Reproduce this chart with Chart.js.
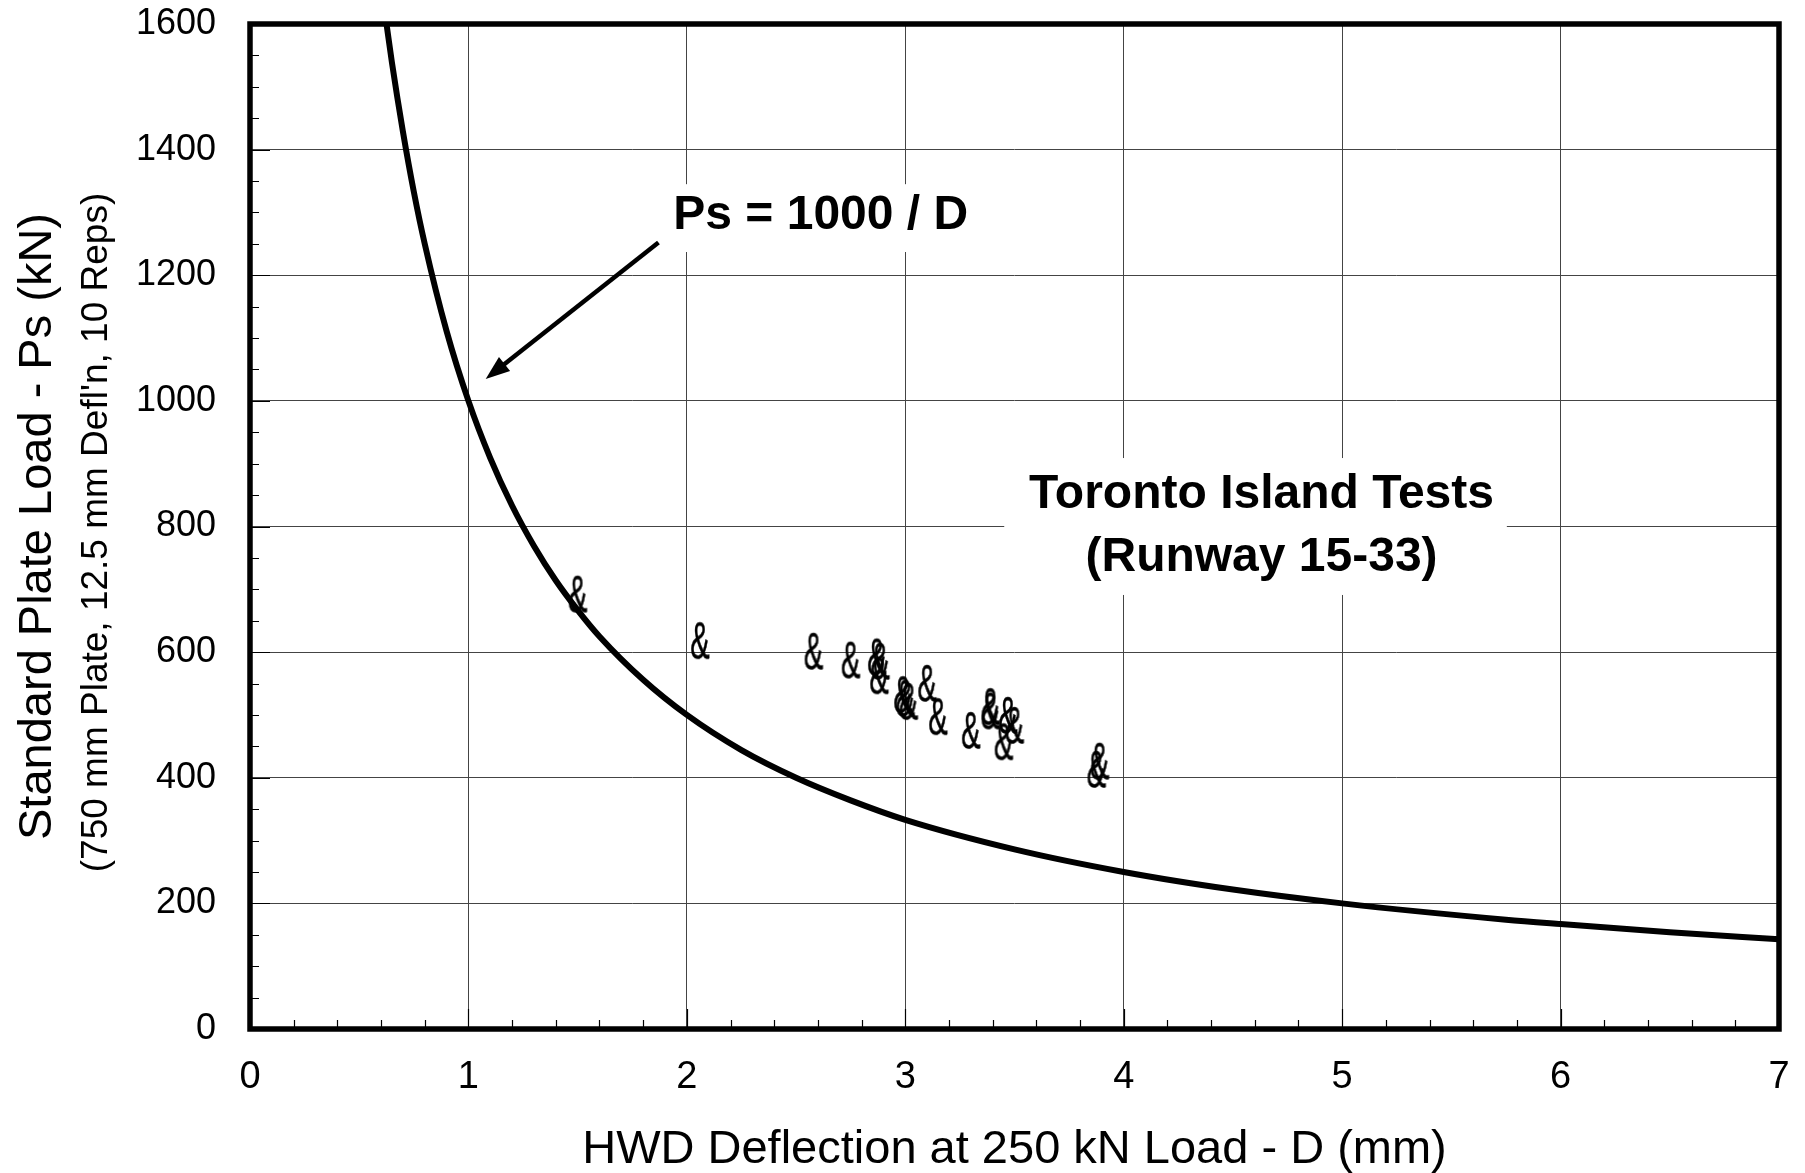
<!DOCTYPE html>
<html>
<head>
<meta charset="utf-8">
<script src="https://cdn.jsdelivr.net/npm/chart.js@4.4.0/dist/chart.umd.min.js"></script>
<style>
  html, body { margin: 0; padding: 0; background: #fff; }
  canvas { display: block; }
</style>
</head>
<body>
<canvas id="plateChart" width="1805" height="1173"></canvas>
<script>
const FONT = '"Liberation Sans", Arial, sans-serif';

// Toronto Island HWD / plate load test points
const hwdDeflection = [1.50, 2.06, 2.58, 2.75, 2.87, 2.885, 2.88, 2.99, 3.00, 3.015, 3.10, 3.15, 3.30, 3.39, 3.39, 3.47, 3.50, 3.45, 3.875, 3.89];
const plateLoad = [693, 619, 602, 588, 593, 586, 563, 533, 527, 522, 551, 498, 476, 514, 507, 500, 484, 458, 414, 427];

// Ps = 1000 / D curve
const curveDeflection = [0.625, 0.65, 0.7, 0.75, 0.8, 0.9, 1.0, 1.1, 1.2, 1.3, 1.4, 1.5, 1.6, 1.8, 2.0, 2.25, 2.5, 2.75, 3.0, 3.5, 4.0, 4.5, 5.0, 5.75, 6.0, 6.5, 7.0];
const curveLoad = [1600, 1538, 1429, 1333, 1250, 1111, 1000, 909, 833, 769, 714, 667, 625, 556, 500, 444, 400, 364, 333, 286, 250, 222, 200, 174, 167, 154, 143];

const xTickValues = [0, 1, 2, 3, 4, 5, 6, 7];
const yTickValues = [0, 200, 400, 600, 800, 1000, 1200, 1400, 1600];

const xTitle = "HWD Deflection at 250 kN Load - D (mm)";
const yTitle = "Standard Plate Load - Ps (kN)";
const ySubTitle = "(750 mm Plate, 12.5 mm Defl'n, 10 Reps)";
const curveLabel = "Ps = 1000 / D";
const testLabel = ["Toronto Island Tests", "(Runway 15-33)"];

// the "&" marker glyph used for every test point
function markerCanvas() {
  const c = document.createElement("canvas");
  c.width = 36;
  c.height = 56;
  const g = c.getContext("2d");
  g.font = "52px " + FONT;
  const m = g.measureText("&");
  const cx = (m.actualBoundingBoxRight - m.actualBoundingBoxLeft) / 2;
  const cy = (m.actualBoundingBoxAscent - m.actualBoundingBoxDescent) / 2;
  g.translate(c.width / 2, c.height / 2);
  g.scale(0.56, 1);
  g.fillStyle = "#000";
  g.strokeStyle = "#000";
  g.lineWidth = 0.6;
  g.fillText("&", -cx, cy);
  g.strokeText("&", -cx, cy);
  return c;
}

const overlay = {
  id: "overlay",
  beforeDatasetsDraw(chart) {
    const { ctx, scales: { x, y } } = chart;
    ctx.save();
    ctx.fillStyle = "#fff";
    // label boxes hide the grid behind them
    ctx.fillRect(x.getPixelForValue(1.88), y.getPixelForValue(1345),
      x.getPixelForValue(3.34) - x.getPixelForValue(1.88), y.getPixelForValue(1237) - y.getPixelForValue(1345));
    ctx.fillRect(x.getPixelForValue(3.453), y.getPixelForValue(909),
      x.getPixelForValue(5.754) - x.getPixelForValue(3.453), y.getPixelForValue(691) - y.getPixelForValue(909));

    ctx.fillStyle = "#000";
    ctx.textAlign = "center";
    ctx.textBaseline = "middle";
    ctx.font = "bold 48px " + FONT;
    ctx.fillText(curveLabel, x.getPixelForValue(2.613), y.getPixelForValue(1294));
    ctx.fillText(testLabel[0], x.getPixelForValue(4.631), y.getPixelForValue(850));
    ctx.fillText(testLabel[1], x.getPixelForValue(4.631), y.getPixelForValue(751));
    ctx.restore();
  },
  afterDatasetsDraw(chart) {
    const { ctx, scales: { x, y } } = chart;
    // arrow pointing at the curve
    const x0 = x.getPixelForValue(1.870), y0 = y.getPixelForValue(1252);
    const x1 = x.getPixelForValue(1.079), y1 = y.getPixelForValue(1035);
    const ang = Math.atan2(y1 - y0, x1 - x0);
    ctx.save();
    ctx.strokeStyle = "#000";
    ctx.fillStyle = "#000";
    ctx.lineWidth = 4.5;
    ctx.beginPath();
    ctx.moveTo(x0, y0);
    ctx.lineTo(x1 - 16 * Math.cos(ang), y1 - 16 * Math.sin(ang));
    ctx.stroke();
    ctx.translate(x1, y1);
    ctx.rotate(ang);
    ctx.beginPath();
    ctx.moveTo(0, 0);
    ctx.lineTo(-24, -9);
    ctx.lineTo(-24, 9);
    ctx.closePath();
    ctx.fill();
    ctx.restore();
  },
  afterDraw(chart) {
    const { ctx, chartArea: a, scales: { x, y } } = chart;
    ctx.save();
    ctx.strokeStyle = "#000";

    // minor ticks inside the frame
    ctx.lineWidth = 1.2;
    ctx.beginPath();
    for (let v = 0.2; v < 7; v += 0.2) {
      const px = Math.round(x.getPixelForValue(v)) + 0.5;
      const major = Math.abs(v - Math.round(v)) < 0.01;
      ctx.moveTo(px, a.bottom);
      ctx.lineTo(px, a.bottom - (major ? 20 : 9));
    }
    for (let v = 50; v < 1600; v += 50) {
      const py = Math.round(y.getPixelForValue(v)) + 0.5;
      const major = v % 200 === 0;
      ctx.moveTo(a.left, py);
      ctx.lineTo(a.left + (major ? 20 : 9), py);
    }
    ctx.stroke();

    // heavy frame
    ctx.lineWidth = 5.5;
    ctx.strokeRect(a.left, a.top, a.right - a.left, a.bottom - a.top);

    // axis titles
    ctx.fillStyle = "#000";
    ctx.textAlign = "center";
    ctx.textBaseline = "middle";
    ctx.font = "47px " + FONT;
    ctx.fillText(xTitle, (a.left + a.right) / 2, 1150);

    const midY = (a.top + a.bottom) / 2;
    ctx.translate(38, midY);
    ctx.rotate(-Math.PI / 2);
    ctx.fillText(yTitle, 0, 0);
    ctx.font = "37px " + FONT;
    ctx.fillText(ySubTitle, -6, 59);
    ctx.restore();
  }
};

function renderPlateChart() {
  const ctx = document.getElementById("plateChart").getContext("2d");

  new Chart(ctx, {
    data: {
      datasets: [
        {
          type: "scatter",
          label: testLabel.join(" "),
          data: hwdDeflection.map((d, i) => ({ x: d, y: plateLoad[i] })),
          pointStyle: markerCanvas(),
          pointRadius: 12,
          order: 1
        },
        {
          type: "line",
          label: curveLabel,
          data: curveDeflection.map((d, i) => ({ x: d, y: curveLoad[i] })),
          borderColor: "#000",
          borderWidth: 6,
          pointRadius: 0,
          cubicInterpolationMode: "monotone",
          fill: false,
          order: 2
        }
      ]
    },
    options: {
      responsive: false,
      animation: false,
      devicePixelRatio: 1,
      layout: { padding: { top: 24, right: 26, bottom: 0, left: 0 } },
      plugins: {
        legend: { display: false },
        tooltip: { enabled: false }
      },
      scales: {
        x: {
          type: "linear",
          min: 0,
          max: 7,
          afterBuildTicks: s => { s.ticks = xTickValues.map(v => ({ value: v })); },
          afterFit: s => {
            s.height = 144;
            s.paddingLeft = 0;
            s.paddingRight = 0;
          },
          grid: { color: "#444", lineWidth: 1, drawTicks: false },
          border: { display: false },
          ticks: {
            font: { family: FONT, size: 38 },
            color: "#000",
            padding: 26,
            maxRotation: 0,
            callback: v => String(v)
          }
        },
        y: {
          type: "linear",
          min: 0,
          max: 1600,
          afterBuildTicks: s => { s.ticks = yTickValues.map(v => ({ value: v })); },
          afterFit: s => {
            s.width = 250;
            s.paddingTop = 0;
            s.paddingBottom = 0;
          },
          grid: { color: "#444", lineWidth: 1, drawTicks: false },
          border: { display: false },
          ticks: {
            font: { family: FONT, size: 36 },
            color: "#000",
            padding: 34,
            callback: v => String(v)
          }
        }
      }
    },
    plugins: [overlay]
  });
}

renderPlateChart();
</script>
</body>
</html>
